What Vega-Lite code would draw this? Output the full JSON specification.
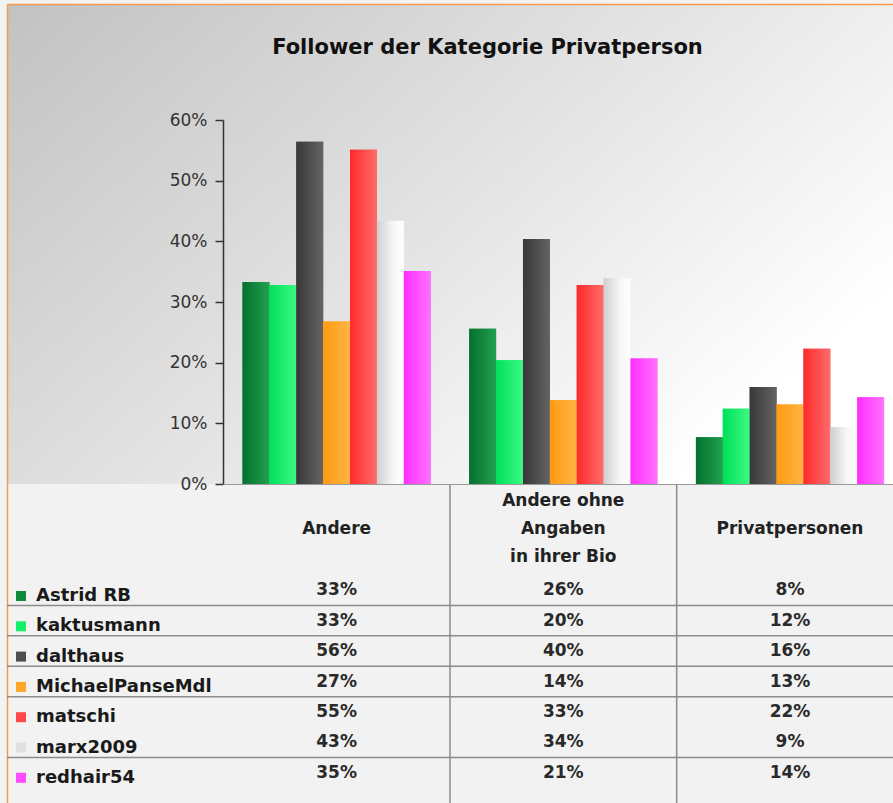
{
  "$schema": "https://vega.github.io/schema/vega-lite/v6.json",
  "padding": {"left": 6, "top": 4, "right": 0, "bottom": 0},
  "background": "#f2f2f2",
  "spacing": 0,
  "bounds": "flush",
  "title": {
    "text": "Follower der Kategorie Privatperson",
    "anchor": "middle",
    "fontSize": 21,
    "fontWeight": "bold",
    "color": "#111111",
    "font": "DejaVu Sans",
    "offset": -54,
    "dx": 37
  },
  "config": {
    "font": "DejaVu Sans",
    "view": {"stroke": null},
    "concat": {"spacing": 0}
  },
  "data": {
    "values": [
      {"Kategorie": "Andere", "Person": "Astrid  RB", "Anteil": 0.333},
      {"Kategorie": "Andere", "Person": "kaktusmann", "Anteil": 0.328},
      {"Kategorie": "Andere", "Person": "dalthaus", "Anteil": 0.564},
      {"Kategorie": "Andere", "Person": "MichaelPanseMdl", "Anteil": 0.268},
      {"Kategorie": "Andere", "Person": "matschi", "Anteil": 0.551},
      {"Kategorie": "Andere", "Person": "marx2009", "Anteil": 0.434},
      {"Kategorie": "Andere", "Person": "redhair54", "Anteil": 0.351},
      {"Kategorie": "Andere ohne Angaben in ihrer Bio", "Person": "Astrid  RB", "Anteil": 0.256},
      {"Kategorie": "Andere ohne Angaben in ihrer Bio", "Person": "kaktusmann", "Anteil": 0.204},
      {"Kategorie": "Andere ohne Angaben in ihrer Bio", "Person": "dalthaus", "Anteil": 0.404},
      {"Kategorie": "Andere ohne Angaben in ihrer Bio", "Person": "MichaelPanseMdl", "Anteil": 0.138},
      {"Kategorie": "Andere ohne Angaben in ihrer Bio", "Person": "matschi", "Anteil": 0.328},
      {"Kategorie": "Andere ohne Angaben in ihrer Bio", "Person": "marx2009", "Anteil": 0.339},
      {"Kategorie": "Andere ohne Angaben in ihrer Bio", "Person": "redhair54", "Anteil": 0.207},
      {"Kategorie": "Privatpersonen", "Person": "Astrid  RB", "Anteil": 0.077},
      {"Kategorie": "Privatpersonen", "Person": "kaktusmann", "Anteil": 0.124},
      {"Kategorie": "Privatpersonen", "Person": "dalthaus", "Anteil": 0.160},
      {"Kategorie": "Privatpersonen", "Person": "MichaelPanseMdl", "Anteil": 0.131},
      {"Kategorie": "Privatpersonen", "Person": "matschi", "Anteil": 0.223},
      {"Kategorie": "Privatpersonen", "Person": "marx2009", "Anteil": 0.094},
      {"Kategorie": "Privatpersonen", "Person": "redhair54", "Anteil": 0.143}
    ]
  },
  "vconcat": [
    {
      "width": 887,
      "height": 480,
      "view": {
        "stroke": null,
        "fill": {
          "gradient": "linear",
          "x1": 0, "y1": 0, "x2": 1, "y2": 0.6,
          "stops": [
            {"offset": 0, "color": "#c2c2c2"},
            {"offset": 0.5, "color": "#e0e0e0"},
            {"offset": 1, "color": "#ffffff"}
          ]
        }
      },
      "resolve": {
        "scale": {"x": "independent", "y": "independent"},
        "axis": {"x": "independent", "y": "independent"}
      },
      "layer": [
        {
          "mark": {"type": "point", "opacity": 0},
          "encoding": {
            "x": {
              "field": "Kategorie",
              "type": "nominal",
              "axis": {"orient": "top", "labels": false, "ticks": false, "title": null, "domain": true, "domainColor": "#f39a4e", "domainWidth": 1.5}
            },
            "y": {
              "field": "Anteil",
              "type": "quantitative",
              "scale": {"domain": [0, 0.6], "nice": false},
              "axis": {"orient": "left", "labels": false, "ticks": false, "title": null, "grid": false, "domain": true, "domainColor": "#f39a4e", "domainWidth": 1.5}
            }
          }
        },
        {
          "encoding": {
            "x": {
              "field": "Kategorie",
              "type": "nominal",
              "scale": {
                "type": "band",
                "domain": ["Andere", "Andere ohne Angaben in ihrer Bio", "Privatpersonen"],
                "range": [216, 887],
                "paddingInner": 0.17,
                "paddingOuter": 0.065,
                "align": 0.663
              },
              "axis": {"orient": "bottom", "labels": false, "ticks": false, "title": null, "domain": true, "domainColor": "#9a9a9a", "domainWidth": 1}
            },
            "xOffset": {
              "field": "Person",
              "type": "nominal",
              "scale": {
                "domain": ["Astrid  RB", "kaktusmann", "dalthaus", "MichaelPanseMdl", "matschi", "marx2009", "redhair54"],
                "paddingInner": 0,
                "paddingOuter": 0
              }
            },
            "y": {
              "field": "Anteil",
              "type": "quantitative",
              "scale": {"domain": [0, 0.6], "range": [480, 116], "nice": false, "zero": true},
              "axis": {
                "orient": "left",
                "values": [0, 0.1, 0.2, 0.3, 0.4, 0.5, 0.6],
                "format": ".0%",
                "offset": -216,
                "title": null,
                "grid": false,
                "domainColor": "#333333",
                "domainWidth": 1.5,
                "tickColor": "#333333",
                "tickSize": 8,
                "tickWidth": 1.5,
                "labelFontSize": 17,
                "labelColor": "#333333",
                "labelPadding": 8
              }
            }
          },
          "layer": [
            {
              "mark": {"type": "bar"},
              "encoding": {
                "color": {
                  "field": "Person",
                  "type": "nominal",
                  "scale": {
                    "domain": ["Astrid  RB", "kaktusmann", "dalthaus", "MichaelPanseMdl", "matschi", "marx2009", "redhair54"],
                    "range": ["#118a3c", "#14f06a", "#4e4e4e", "#ffa528", "#ff4848", "#e0e0e0", "#ff4cff"]
                  },
                  "legend": {
                    "orient": "none",
                    "legendX": 5,
                    "legendY": 583,
                    "title": null,
                    "symbolType": "square",
                    "symbolSize": 100,
                    "symbolStrokeWidth": 0,
                    "labelFontSize": 18,
                    "labelFontWeight": "bold",
                    "labelColor": "#1a1a1a",
                    "labelLimit": 300,
                    "rowPadding": 12.3,
                    "labelOffset": 6,
                    "padding": 0
                  }
                }
              }
            },
            {
              "transform": [{"filter": "datum.Person === 'Astrid  RB'"}],
              "mark": {"type": "bar", "color": {"gradient": "linear", "x1": 0, "y1": 0, "x2": 1, "y2": 0, "stops": [{"offset": 0, "color": "#05702e"}, {"offset": 1, "color": "#22a04e"}]}}
            },
            {
              "transform": [{"filter": "datum.Person === 'kaktusmann'"}],
              "mark": {"type": "bar", "color": {"gradient": "linear", "x1": 0, "y1": 0, "x2": 1, "y2": 0, "stops": [{"offset": 0, "color": "#00e05a"}, {"offset": 1, "color": "#3cfa84"}]}}
            },
            {
              "transform": [{"filter": "datum.Person === 'dalthaus'"}],
              "mark": {"type": "bar", "color": {"gradient": "linear", "x1": 0, "y1": 0, "x2": 1, "y2": 0, "stops": [{"offset": 0, "color": "#383838"}, {"offset": 1, "color": "#646464"}]}}
            },
            {
              "transform": [{"filter": "datum.Person === 'MichaelPanseMdl'"}],
              "mark": {"type": "bar", "color": {"gradient": "linear", "x1": 0, "y1": 0, "x2": 1, "y2": 0, "stops": [{"offset": 0, "color": "#ff9a12"}, {"offset": 1, "color": "#ffb444"}]}}
            },
            {
              "transform": [{"filter": "datum.Person === 'matschi'"}],
              "mark": {"type": "bar", "color": {"gradient": "linear", "x1": 0, "y1": 0, "x2": 1, "y2": 0, "stops": [{"offset": 0, "color": "#ff2a2a"}, {"offset": 1, "color": "#ff6c6c"}]}}
            },
            {
              "transform": [{"filter": "datum.Person === 'marx2009'"}],
              "mark": {"type": "bar", "color": {"gradient": "linear", "x1": 0, "y1": 0, "x2": 1, "y2": 0, "stops": [{"offset": 0, "color": "#cfcfcf"}, {"offset": 0.6, "color": "#f6f6f6"}, {"offset": 1, "color": "#ffffff"}]}}
            },
            {
              "transform": [{"filter": "datum.Person === 'redhair54'"}],
              "mark": {"type": "bar", "color": {"gradient": "linear", "x1": 0, "y1": 0, "x2": 1, "y2": 0, "stops": [{"offset": 0, "color": "#ff2eff"}, {"offset": 1, "color": "#ff72ff"}]}}
            }
          ]
        }
      ]
    },
    {
      "width": 887,
      "height": 319,
      "view": {"stroke": null, "fill": null},
      "resolve": {
        "scale": {"y": "independent"},
        "axis": {"y": "independent"}
      },
      "layer": [
        {
          "mark": {"type": "point", "opacity": 0},
          "encoding": {
            "y": {
              "field": "Person",
              "type": "nominal",
              "axis": {"orient": "left", "title": null, "labels": false, "ticks": false, "grid": false, "domain": true, "domainColor": "#f39a4e", "domainWidth": 1.5}
            }
          }
        },
        {
          "encoding": {
            "x": {
              "field": "Kategorie",
              "type": "nominal",
              "scale": {
                "type": "band",
                "domain": ["Andere", "Andere ohne Angaben in ihrer Bio", "Privatpersonen"],
                "range": [216, 887],
                "paddingInner": 0.17,
                "paddingOuter": 0.065,
                "align": 0.663
              },
              "axis": {
                "orient": "top",
                "title": null,
                "domain": true,
                "domainColor": "#9a9a9a",
                "domainWidth": 1,
                "ticks": false,
                "grid": false,
                "labelAngle": 0,
                "labelExpr": "datum.value == 'Andere ohne Angaben in ihrer Bio' ? ['Andere ohne', 'Angaben', 'in ihrer Bio'] : ['', datum.value, '']",
                "labelFontSize": 17,
                "labelFontWeight": "bold",
                "labelColor": "#222222",
                "labelBaseline": "middle",
                "labelLineHeight": 28,
                "labelPadding": -16,
                "labelOverlap": false,
                "labelBound": false,
                "labelFlush": false,
                "labelLimit": 300
              }
            },
            "y": {
              "field": "Person",
              "type": "nominal",
              "scale": {
                "type": "band",
                "domain": ["Astrid  RB", "kaktusmann", "dalthaus", "MichaelPanseMdl", "matschi", "marx2009", "redhair54"],
                "range": [91, 304],
                "paddingInner": 0,
                "paddingOuter": 0
              },
              "axis": null
            }
          },
          "layer": [
            {
              "transform": [{"filter": "datum.Person === 'Astrid  RB' && datum.Kategorie !== 'Andere'"}],
              "mark": {"type": "rule", "color": "#8c8c8c", "strokeWidth": 1.5, "xOffset": -113.3},
              "encoding": {"y": null}
            },
            {
              "transform": [{"filter": "datum.Kategorie === 'Andere' && datum.Person !== 'Astrid  RB' && datum.Person !== 'marx2009'"}],
              "mark": {"type": "rule", "color": "#8c8c8c", "strokeWidth": 1.5},
              "encoding": {"x": null, "y": {"field": "Person", "type": "nominal", "bandPosition": 0}}
            },
            {
              "mark": {"type": "text", "fontSize": 17, "fontWeight": "bold", "color": "#2a2a2a", "baseline": "middle"},
              "encoding": {
                "text": {"field": "Anteil", "type": "quantitative", "format": ".0%"}
              }
            }
          ]
        }
      ]
    }
  ]
}
